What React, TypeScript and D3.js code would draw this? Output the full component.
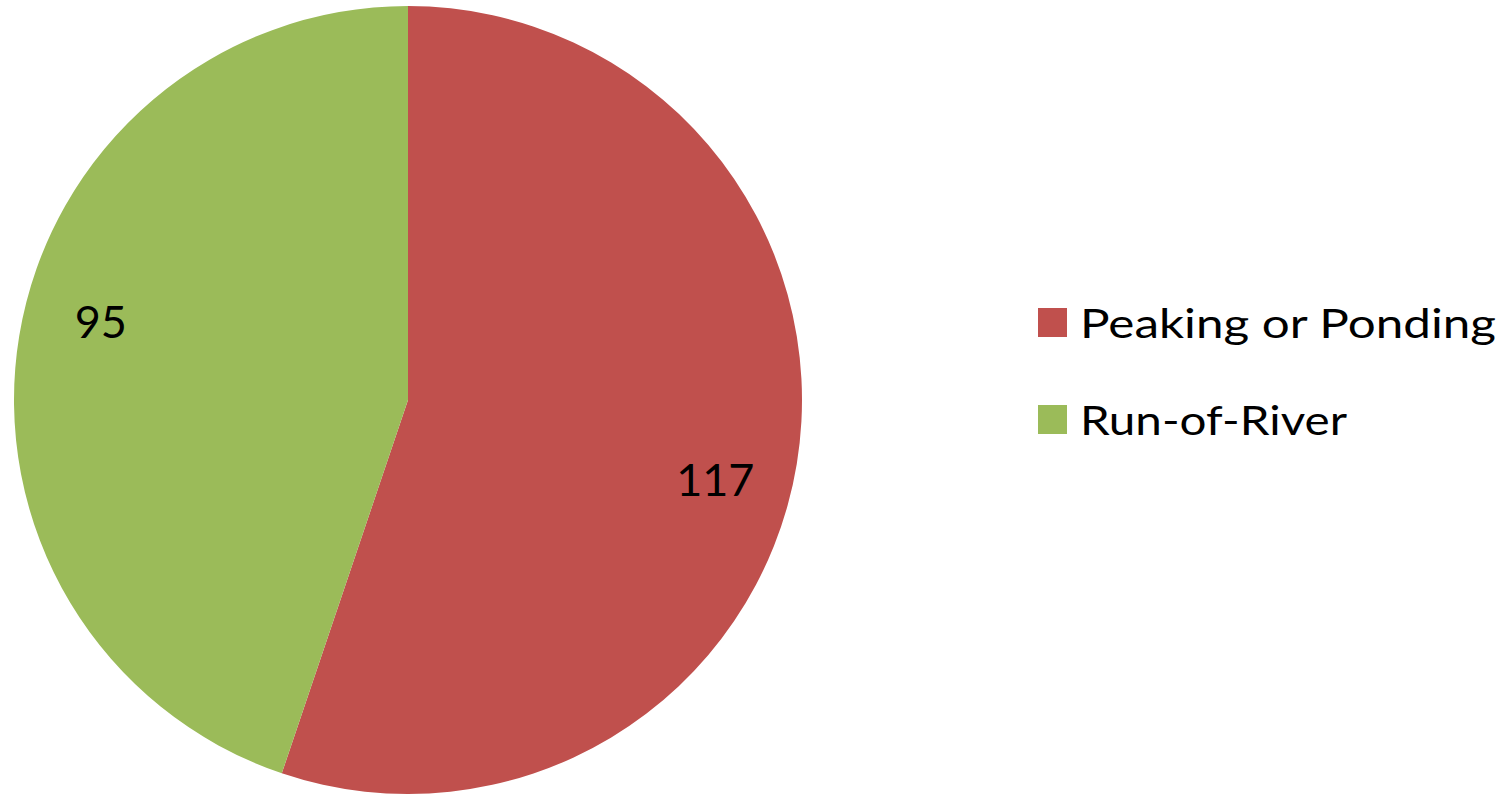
import React from "react"
import * as d3 from "d3"

const WIDTH = 1511
const HEIGHT = 794
const CENTER = { x: 408, y: 400 }
const RADIUS = 394

const categories = ["Peaking or Ponding", "Run-of-River"]
const values = [117, 95]
const colors = ["#C0504D", "#9BBB59"]

const FONT = "Lato, 'Open Sans', sans-serif"
// rendered widths of the legend entries in the original (Calibri is wider)
const LEGEND_TEXT_WIDTH: Record<string, number> = {
    "Peaking or Ponding": 416,
    "Run-of-River": 267,
}

export default function App() {
    const pie = d3
        .pie<number>()
        .sort(null)
        .value((d) => d)
    const arcs = pie(values)

    const arc = d3
        .arc<d3.PieArcDatum<number>>()
        .innerRadius(0)
        .outerRadius(RADIUS)

    // Excel's "best fit" labels sit a bit off the mid angle
    const labelArc = d3
        .arc<d3.PieArcDatum<number>>()
        .innerRadius(RADIUS * 0.805)
        .outerRadius(RADIUS * 0.805)
    const shift = (5 * Math.PI) / 180

    const legendY = d3
        .scalePoint<string>()
        .domain(categories)
        .range([322.5, 419.5])

    return (
        <svg
            width={WIDTH}
            height={HEIGHT}
            style={{ position: "absolute", left: 0, top: 0, background: "#fff" }}
        >
            <g transform={`translate(${CENTER.x},${CENTER.y})`}>
                {arcs.map((a, i) => (
                    <path key={i} d={arc(a) || ""} fill={colors[i]} />
                ))}
                {arcs.map((a, i) => {
                    const [lx, ly] = labelArc.centroid({
                        ...a,
                        startAngle: a.startAngle + shift,
                        endAngle: a.endAngle + shift,
                    })
                    return (
                        <text
                            key={i}
                            x={lx}
                            y={ly}
                            textAnchor="middle"
                            dominantBaseline="central"
                            fontFamily={FONT}
                            fontSize={45}
                            fill="#000"
                        >
                            {values[i]}
                        </text>
                    )
                })}
            </g>
            <g>
                {categories.map((c, i) => {
                    const y = legendY(c) || 0
                    return (
                        <g key={c}>
                            <rect x={1038} y={y - 14.5} width={29} height={29} fill={colors[i]} />
                            <text
                                x={1080}
                                y={y}
                                dominantBaseline="central"
                                fontFamily={FONT}
                                fontSize={40}
                                textLength={LEGEND_TEXT_WIDTH[c]}
                                lengthAdjust="spacingAndGlyphs"
                                fill="#000"
                            >
                                {c}
                            </text>
                        </g>
                    )
                })}
            </g>
        </svg>
    )
}
